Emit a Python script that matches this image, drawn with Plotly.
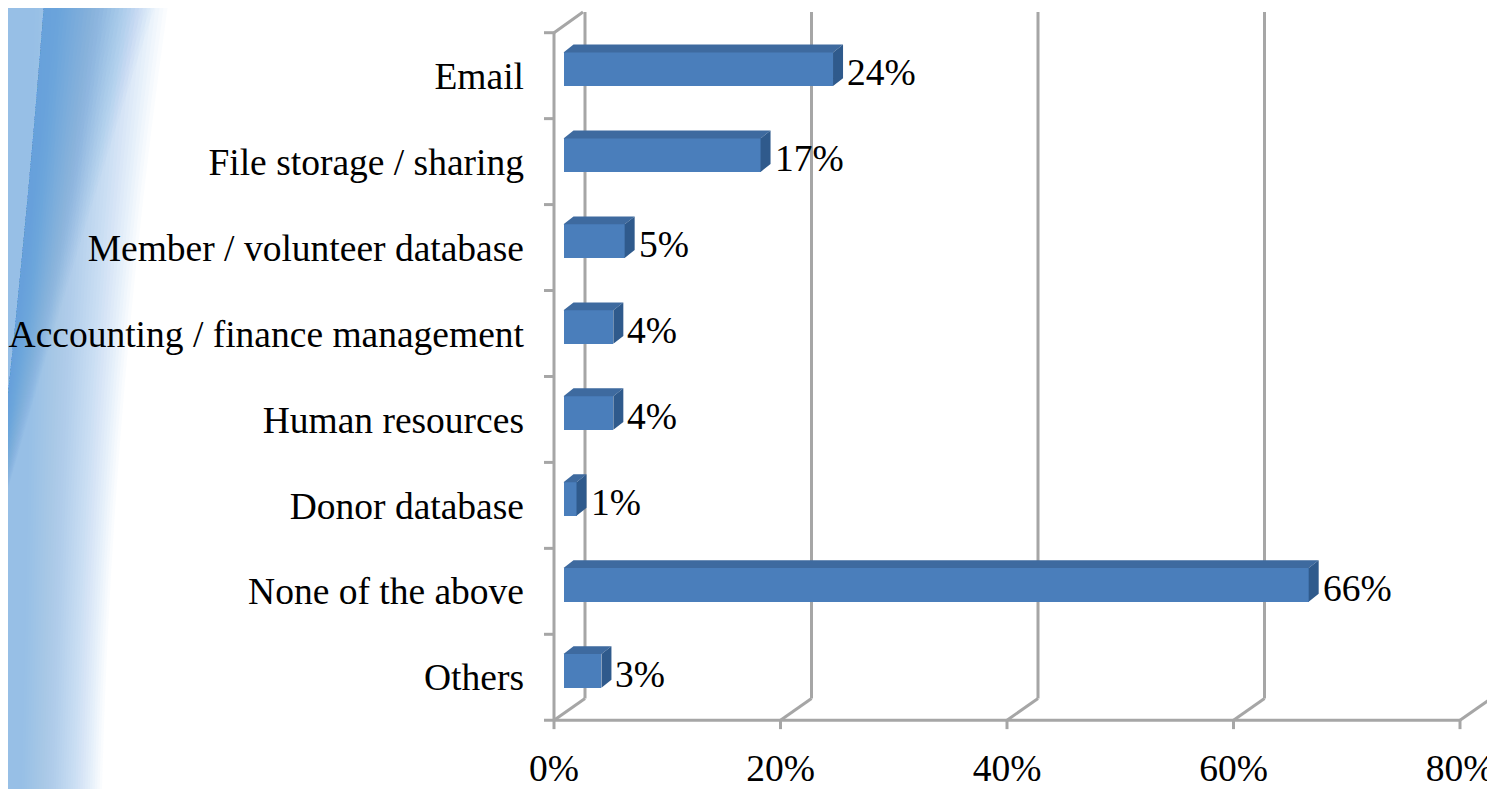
import plotly.graph_objects as go

# ---------------- data ----------------
categories = ["Email", "File storage / sharing", "Member / volunteer database",
              "Accounting / finance management", "Human resources", "Donor database",
              "None of the above", "Others"]
values = [23.8, 17.4, 5.4, 4.4, 4.4, 1.15, 65.8, 3.35]
x_ticks = [0, 20, 40, 60, 80]
x_tick_labels = ["0%", "20%", "40%", "60%", "80%"]

# ---------------- geometry (screen pixels; page body has an 8px margin) ----------------
OFF = 8
SCR_W, SCR_H = 1495, 789
W, H = SCR_W - OFF, SCR_H - OFF
PL, PT, PR, PB = 540, OFF, SCR_W, 749       # plot area in screen pixels
L, T = PL - OFF, PT - OFF
R, B = (OFF + W) - PR, (OFF + H) - PB
plot_w = PR - PL
plot_h = PB - PT
SX = 11.325          # px per percent
SY = 87.0            # px per category band
X0 = -(554 - PL) / SX
X1 = X0 + plot_w / SX
Y_TOP = (PT - 76.5) / SY
Y_BOT = Y_TOP + plot_h / SY


def px(d):
    return d / SX


def py(d):
    return d / SY


FONT = "Liberation Serif"
FS = 37.5
GRID = "#a6a6a6"
GW = 3
FLOOR = len(categories) - 0.5
TOPB = -0.5
WDX, WDY = 31, 22

shapes = []


# ---------------- left decorative swoosh (paper coords) ----------------
def pxp(xs):
    return (xs - PL) / plot_w


def pyp(ys):
    return 1 - (ys - PT) / plot_h


def P(x, y):
    return f"{pxp(x):.5f},{pyp(y):.5f}"


NA = 34
aA = 1 - 0.24 ** (1 / NA)
for i in range(NA):
    f = i / (NA - 1)
    r_bot = 22 + 80 * f
    r_top = 35 + 135 * f
    path = (f"M {P(-10, -10)} L {P(r_top, -10)} Q {P(r_bot + 10, 400)} {P(r_bot, 800)} "
            f"L {P(-10, 800)} Z")
    shapes.append(dict(type="path", path=path, xref="paper", yref="paper",
                       fillcolor=f"rgba(120,190,232,{aA:.4f})", line=dict(width=0),
                       layer="below"))

NB = 26
aB = 1 - 0.5 ** (1 / NB)
for i in range(NB):
    f = i / (NB - 1)
    r = 60 + 100 * f
    path = (f"M {P(45, -10)} Q {P(25, 260)} {P(-10, 560)} "
            f"Q {P(r * 0.45, 260)} {P(r, -10)} Z")
    shapes.append(dict(type="path", path=path, xref="paper", yref="paper",
                       fillcolor=f"rgba(60,155,222,{aB:.4f})", line=dict(width=0),
                       layer="below"))

line_style = dict(color=GRID, width=GW)

# floor line
shapes.append(dict(type="line", xref="x", yref="y", x0=0, x1=x_ticks[-1],
                   y0=FLOOR, y1=FLOOR, line=line_style, layer="below"))
# x tick marks + back-wall lines
for t in x_ticks:
    shapes.append(dict(type="line", xref="x", yref="y", x0=t, x1=t,
                       y0=FLOOR, y1=FLOOR + py(9), line=line_style, layer="below"))
    shapes.append(dict(type="line", xref="x", yref="y", x0=t, x1=t + px(WDX),
                       y0=FLOOR, y1=FLOOR - py(WDY), line=line_style, layer="below"))
    shapes.append(dict(type="line", xref="x", yref="y", x0=t + px(WDX), x1=t + px(WDX),
                       y0=FLOOR - py(WDY), y1=TOPB - py(WDY - 1), line=line_style,
                       layer="below"))
# left wall front line + top diagonal
shapes.append(dict(type="line", xref="x", yref="y", x0=0, x1=0,
                   y0=TOPB, y1=FLOOR, line=line_style, layer="below"))
shapes.append(dict(type="line", xref="x", yref="y", x0=0, x1=px(WDX - 2),
                   y0=TOPB, y1=TOPB - py(WDY - 1), line=line_style, layer="below"))
# y tick marks at band boundaries
for k in range(len(categories) + 1):
    b = k - 0.5
    shapes.append(dict(type="line", xref="x", yref="y", x0=-px(10), x1=0,
                       y0=b, y1=b, line=line_style, layer="below"))

# ---------------- bars (3D look) ----------------
base = px(9.5)
half = py(17)
shift = py(6.5)
ddx, ddy = px(10), py(8)
ks = list(range(len(categories)))
yc = [k - shift for k in ks]

fig = go.Figure()
fig.add_trace(go.Bar(orientation="h", x=values, y=yc, base=base, width=2 * half,
                     marker=dict(color="#4a7ebb", line=dict(width=0)),
                     hoverinfo="skip", showlegend=False))

top_x, top_y, side_x, side_y = [], [], [], []
for v, c in zip(values, yc):
    yt, yb = c - half, c + half
    x_end = base + v
    top_x += [base, x_end, x_end + ddx, base + ddx, base, None]
    top_y += [yt, yt, yt - ddy, yt - ddy, yt, None]
    side_x += [x_end, x_end, x_end + ddx, x_end + ddx, x_end, None]
    side_y += [yt, yb, yb - ddy, yt - ddy, yt, None]

fig.add_trace(go.Scatter(x=top_x, y=top_y, mode="lines", fill="toself",
                         fillcolor="#3e6a9f", line=dict(width=0),
                         hoverinfo="skip", showlegend=False))
fig.add_trace(go.Scatter(x=side_x, y=side_y, mode="lines", fill="toself",
                         fillcolor="#2f5a8c", line=dict(width=0),
                         hoverinfo="skip", showlegend=False))

annotations = []
for v, k in zip(values, ks):
    annotations.append(dict(x=base + v + ddx + px(2), y=k - py(3), xref="x", yref="y",
                            text=f"{v:.0f}%", showarrow=False, xanchor="left",
                            yanchor="middle",
                            font=dict(family=FONT, size=FS, color="black")))

fig.update_layout(
    width=W, height=H,
    margin=dict(l=L, r=R, t=T, b=B, pad=0),
    paper_bgcolor="white", plot_bgcolor="rgba(0,0,0,0)",
    shapes=shapes, annotations=annotations,
    bargap=0,
    xaxis=dict(range=[X0, X1], tickvals=x_ticks, ticktext=x_tick_labels,
               ticks="", showgrid=False, zeroline=False, showline=False,
               tickfont=dict(family=FONT, size=FS, color="black"),
               ticklabelstandoff=2, fixedrange=True),
    yaxis=dict(range=[Y_BOT, Y_TOP], tickvals=ks, ticktext=categories,
               ticks="", showgrid=False, zeroline=False, showline=False,
               anchor="free", position=(554 - PL) / plot_w, side="left",
               tickfont=dict(family=FONT, size=FS, color="black"),
               ticklabelstandoff=30, fixedrange=True),
)

fig.write_html("out.html")
